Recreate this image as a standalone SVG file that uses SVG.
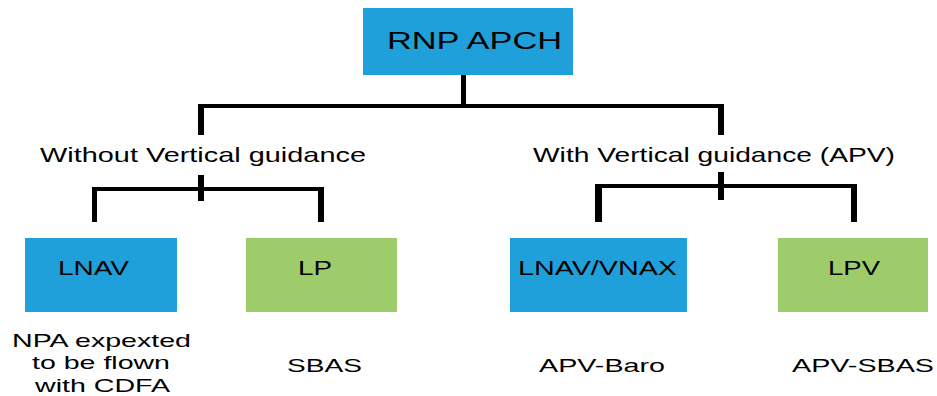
<svg xmlns="http://www.w3.org/2000/svg" width="937" height="396" viewBox="0 0 937 396">
<style>
.blue{fill:#1fa0da}
.green{fill:#9ecc6b}
text{font-family:"Liberation Sans",Arial,sans-serif;fill:#000}
.ln{fill:#000}
</style>
<rect width="937" height="396" fill="#fff"/>
<g id="connectors">
<rect class="ln" x="461" y="75" width="5" height="32"/>
<rect class="ln" x="198" y="104" width="526" height="4"/>
<rect class="ln" x="198" y="104" width="6" height="31"/>
<rect class="ln" x="718" y="104" width="6" height="31"/>
<rect class="ln" x="92" y="187" width="232" height="4"/>
<rect class="ln" x="198" y="175" width="6" height="26"/>
<rect class="ln" x="92" y="187" width="5" height="35"/>
<rect class="ln" x="318" y="187" width="6" height="35"/>
<rect class="ln" x="595" y="184" width="262" height="4"/>
<rect class="ln" x="718" y="172" width="6" height="28"/>
<rect class="ln" x="595" y="184" width="7" height="38"/>
<rect class="ln" x="851" y="184" width="6" height="38"/>
</g>
<g id="rnp-apch">
<rect class="blue" x="363" y="8" width="210" height="67"/>
<text x="387" y="49" font-size="24" textLength="175" lengthAdjust="spacingAndGlyphs">RNP APCH</text>
</g>
<g id="without-vertical">
<text x="40" y="162" font-size="21" textLength="326" lengthAdjust="spacingAndGlyphs">Without Vertical guidance</text>
</g>
<g id="with-vertical">
<text x="533" y="162" font-size="21" textLength="362" lengthAdjust="spacingAndGlyphs">With Vertical guidance (APV)</text>
</g>
<g id="lnav">
<rect class="blue" x="25" y="238" width="152" height="74"/>
<text x="58" y="275" font-size="20" textLength="71" lengthAdjust="spacingAndGlyphs">LNAV</text>
<text x="12" y="347" font-size="19" textLength="179" lengthAdjust="spacingAndGlyphs">NPA expexted</text>
<text x="32" y="369" font-size="19" textLength="138" lengthAdjust="spacingAndGlyphs">to be flown</text>
<text x="35" y="392" font-size="19" textLength="135" lengthAdjust="spacingAndGlyphs">with CDFA</text>
</g>
<g id="lp">
<rect class="green" x="246" y="238" width="151" height="74"/>
<text x="298" y="275" font-size="20" textLength="34" lengthAdjust="spacingAndGlyphs">LP</text>
<text x="287" y="372" font-size="19" textLength="75" lengthAdjust="spacingAndGlyphs">SBAS</text>
</g>
<g id="lnav-vnax">
<rect class="blue" x="510" y="238" width="177" height="74"/>
<text x="518" y="275" font-size="20" textLength="159" lengthAdjust="spacingAndGlyphs">LNAV/VNAX</text>
<text x="539" y="372" font-size="19" textLength="126" lengthAdjust="spacingAndGlyphs">APV-Baro</text>
</g>
<g id="lpv">
<rect class="green" x="778" y="238" width="150" height="74"/>
<text x="828" y="275" font-size="20" textLength="52" lengthAdjust="spacingAndGlyphs">LPV</text>
<text x="792" y="372" font-size="19" textLength="142" lengthAdjust="spacingAndGlyphs">APV-SBAS</text>
</g>
</svg>
